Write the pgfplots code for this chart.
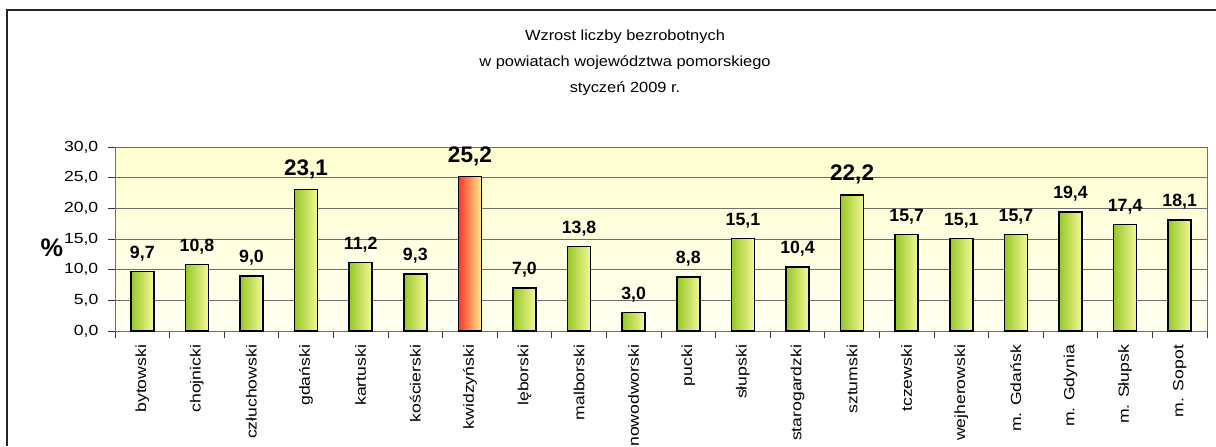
\documentclass[border=0pt]{standalone}
\usepackage{pgfplots}
\pgfplotsset{compat=1.18}
\usepackage{fontspec}
\setmainfont{Liberation Sans}
\newfontfamily\wide[FakeStretch=1.2]{Liberation Sans}
\newfontfamily\twide[FakeStretch=1.12]{Liberation Sans}
\definecolor{gL}{RGB}{150,200,40}
\definecolor{gR}{RGB}{245,248,150}
\definecolor{rL}{RGB}{250,55,40}
\definecolor{rR}{RGB}{255,235,140}
\definecolor{bgT}{RGB}{255,255,208}
\definecolor{bgB}{RGB}{255,255,240}
\definecolor{gridc}{RGB}{110,110,110}
\begin{document}
\begin{tikzpicture}
\useasboundingbox (0,0) rectangle (912pt,334.5pt);
\draw[line width=0.9pt, black!85] (5.25pt,0pt) -- (5.25pt,327pt) -- (912pt,327pt);
\node[align=center, font=\twide\fontsize{11}{19.5}\selectfont] at (468.75pt,287.25pt)
  {Wzrost liczby bezrobotnych\\w powiatach województwa pomorskiego\\styczeń 2009 r.};
\node[font=\bfseries\fontsize{19}{20}\selectfont] at (39pt,148.5pt) {\%};
\begin{axis}[
  at={(86.25pt,86.25pt)}, anchor=south west,
  scale only axis, width=819pt, height=138pt,
  xmin=-0.5, xmax=19.5, ymin=0, ymax=30,
  xtick={-0.5,0.5,1.5,2.5,3.5,4.5,5.5,6.5,7.5,8.5,9.5,10.5,11.5,12.5,13.5,14.5,15.5,16.5,17.5,18.5,19.5},
  x tick label as interval,
  xticklabels={bytowski,chojnicki,człuchowski,gdański,kartuski,kościerski,kwidzyński,lęborski,malborski,nowodworski,pucki,słupski,starogardzki,sztumski,tczewski,wejherowski,m. Gdańsk,m. Gdynia,m. Słupsk,m. Sopot},
  xticklabel style={rotate=90, anchor=east, font=\wide\fontsize{11}{12}\selectfont},
  xticklabel shift=2pt,
  ytick={0,5,...,30},
  yticklabel style={font=\wide\fontsize{11}{12}\selectfont},
  yticklabel shift=4pt,
  /pgf/number format/fixed, /pgf/number format/fixed zerofill,
  /pgf/number format/precision=1, /pgf/number format/use comma,
  /pgf/number format/assume math mode=true,
  ymajorgrids, grid style={gridc, line width=0.75pt},
  axis line style={gridc, line width=0.75pt},
  axis background/.style={top color=bgT, bottom color=bgB},
  tick align=outside, tick pos=left,
  major tick length=5pt,
  tick style={black!80, line width=0.75pt},
  ybar, bar width=17.25pt, bar shift=0pt,
  gbar/.style={draw=black, line width=1.1pt, left color=gL, right color=gR,
    nodes near coords,
    every node near coord/.append style={font=\bfseries\fontsize{13.3}{14}\selectfont, anchor=south, yshift=4pt, text=black}},
  big/.style={every node near coord/.append style={font=\bfseries\fontsize{16.9}{18}\selectfont}},
]
\addplot[gbar] coordinates {(0,9.7)};
\addplot[gbar] coordinates {(1,10.8)};
\addplot[gbar] coordinates {(2,9.0)};
\addplot[gbar,big] coordinates {(3,23.1)};
\addplot[gbar] coordinates {(4,11.2)};
\addplot[gbar] coordinates {(5,9.3)};
\addplot[gbar,big,left color=rL,right color=rR] coordinates {(6,25.2)};
\addplot[gbar] coordinates {(7,7.0)};
\addplot[gbar] coordinates {(8,13.8)};
\addplot[gbar] coordinates {(9,3.0)};
\addplot[gbar] coordinates {(10,8.8)};
\addplot[gbar] coordinates {(11,15.1)};
\addplot[gbar] coordinates {(12,10.4)};
\addplot[gbar,big] coordinates {(13,22.2)};
\addplot[gbar] coordinates {(14,15.7)};
\addplot[gbar] coordinates {(15,15.1)};
\addplot[gbar] coordinates {(16,15.7)};
\addplot[gbar] coordinates {(17,19.4)};
\addplot[gbar] coordinates {(18,17.4)};
\addplot[gbar] coordinates {(19,18.1)};
\end{axis}
\end{tikzpicture}
\end{document}
